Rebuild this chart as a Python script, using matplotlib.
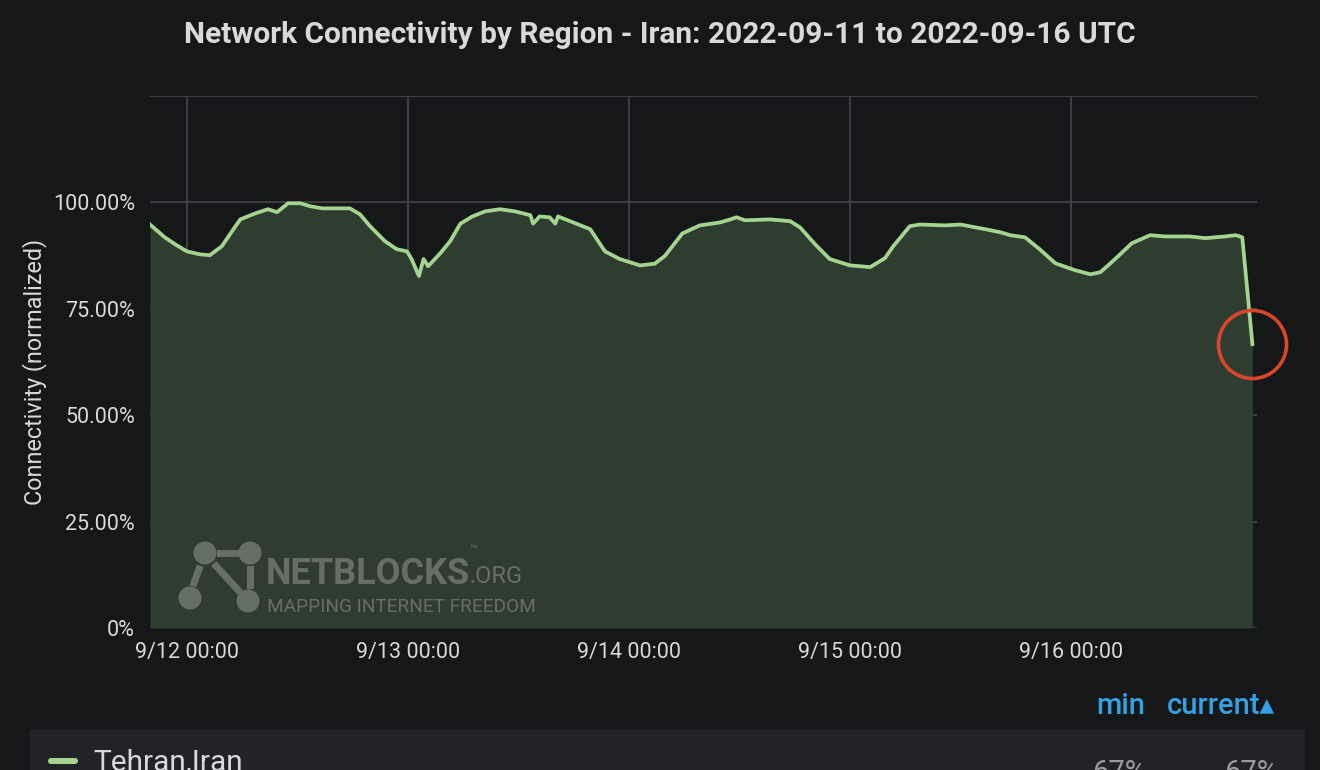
import pandas as pd
import matplotlib.pyplot as plt
from matplotlib.patches import Circle, Rectangle, FancyBboxPatch

# dados (horas desde 9/12 00:00 UTC, conectividade %)
horas = [-4.0, -2.4, -1.3, 0.0, 1.4, 2.5, 3.8, 4.9, 5.8, 7.4, 8.8, 9.8, 11.0, 12.3,
         13.4, 14.7, 17.7, 18.8, 19.9, 21.5, 22.8, 23.9, 24.4, 25.2, 25.7, 26.2,
         27.5, 28.6, 29.7, 31.0, 32.4, 34.0, 35.6, 37.3, 37.6, 38.3, 39.4, 40.0,
         40.3, 41.6, 43.8, 45.4, 47.0, 49.2, 50.8, 51.9, 53.8, 55.7, 57.9, 59.0,
         59.7, 60.6, 63.3, 65.5, 66.6, 68.2, 69.8, 72.0, 74.2, 75.8, 76.7, 78.5,
         79.6, 82.3, 84.0, 86.7, 88.3, 89.4, 91.0, 92.6, 94.3, 96.4, 98.1, 99.2,
         100.8, 102.6, 104.6, 106.2, 108.9, 110.6, 112.7, 113.9, 114.6, 115.7]
conectividade = [94.8, 91.8, 90.2, 88.5, 87.8, 87.6, 89.7, 93.2, 96.0, 97.4, 98.4,
                 97.7, 99.8, 99.8, 99.1, 98.6, 98.6, 97.2, 94.4, 90.9, 89.0, 88.5,
                 86.7, 82.7, 86.7, 85.0, 88.0, 90.9, 95.0, 96.7, 97.9, 98.4, 97.9,
                 97.0, 95.0, 96.7, 96.5, 95.0, 96.7, 95.6, 93.7, 88.5, 86.7, 85.2,
                 85.6, 87.4, 92.7, 94.6, 95.3, 96.0, 96.5, 95.8, 96.0, 95.6, 94.1,
                 90.2, 86.7, 85.2, 84.8, 86.9, 89.7, 94.4, 94.8, 94.6, 94.8, 93.7,
                 93.0, 92.3, 91.8, 89.0, 85.7, 84.1, 83.1, 83.6, 86.7, 90.4, 92.3,
                 92.0, 92.0, 91.6, 92.0, 92.3, 91.8, 66.7]
dias = ['2022-09-12', '2022-09-13', '2022-09-14', '2022-09-15', '2022-09-16']
rotulos_x = ['9/12 00:00', '9/13 00:00', '9/14 00:00', '9/15 00:00', '9/16 00:00']
ticks_y = [0, 25, 50, 75, 100, 125]
rotulos_y = ['0%', '25.00%', '50.00%', '75.00%', '100.00%', '']

base = pd.Timestamp('2022-09-12 00:00')
df = pd.DataFrame({'tempo': base + pd.to_timedelta(horas, unit='h'),
                   'valor': conectividade})

fundo = '#161719'
texto = '#d8d9da'
grade = '#45464a'
verde = '#a3d58f'

plt.rcParams['font.family'] = ['Roboto', 'DejaVu Sans']

fig = plt.figure(figsize=(13.2, 7.7), dpi=100, facecolor=fundo)
ax = fig.add_axes([150 / 1320, 1 - 628 / 770, 1107 / 1320, 532 / 770])
ax.set_facecolor(fundo)

ax.fill_between(df['tempo'], df['valor'], 0, color='#2f3d30', lw=0, zorder=2)
ax.plot(df['tempo'], df['valor'], color=verde, lw=2.7, zorder=3,
        solid_joinstyle='round')
# marcacao do ultimo ponto
ax.plot(df['tempo'].iloc[-1], df['valor'].iloc[-1], 'o', ms=49, mfc='none',
        mec='#d9462c', mew=2.6, zorder=4, clip_on=False)

ax.set_xlim(base - pd.Timedelta(hours=4), base + pd.Timedelta(hours=116.2))
ax.set_ylim(0, 125)
ax.set_xticks(pd.to_datetime(dias))
ax.set_xticklabels(rotulos_x)
ax.set_yticks(ticks_y)
ax.set_yticklabels(rotulos_y)
ax.tick_params(colors=texto, labelsize=15.5, length=0, pad=10)
ax.tick_params(axis='y', pad=11)
ax.grid(True, color=grade, lw=1.2, zorder=1)
for s in ax.spines.values():
    s.set_visible(False)
ax.set_ylabel('Connectivity (normalized)', color=texto, fontsize=16.8)
ax.yaxis.set_label_coords(-0.093, 0.481)

fig.text(0.5, 1 - 35 / 770, 'Network Connectivity by Region - Iran: 2022-09-11 to 2022-09-16 UTC',
         color=texto, fontsize=21.5, fontweight='bold', ha='center', va='center')

# camada de decoracao em pixels
ov = fig.add_axes([0, 0, 1, 1], zorder=5)
ov.set_xlim(0, 1320)
ov.set_ylim(770, 0)
ov.axis('off')

cinza = '#707a6c'
for cx, cy in [(205, 553), (250, 553), (190, 598), (248, 601)]:
    ov.add_patch(Circle((cx, cy), 11.5, color=cinza, alpha=0.85, lw=0))
ov.plot([220, 235], [553, 553], color=cinza, lw=5, alpha=0.85)
ov.plot([250, 250], [569, 585], color=cinza, lw=5, alpha=0.85)
ov.plot([199, 194], [569, 583], color=cinza, lw=5, alpha=0.85)
ov.plot([216, 238], [566, 590], color=cinza, lw=5, alpha=0.85)
ov.text(266, 584, 'NETBLOCKS', fontweight='bold', fontsize=26, color=cinza,
        alpha=0.85, va='baseline')
ov.text(469, 583, '.ORG', fontsize=17, color=cinza, alpha=0.85, va='baseline')
ov.text(469, 554, '\u2122', fontsize=9, color=cinza, alpha=0.85, va='baseline')
ov.text(267, 612, 'MAPPING INTERNET FREEDOM', fontsize=13.7, color=cinza,
        alpha=0.85, va='baseline')

# legenda inferior
azul = '#33a2e5'
ov.text(1096, 706, 'min', color=azul, fontsize=21, fontweight='medium', va='center')
ov.text(1167, 706, 'current\u25b4', color=azul, fontsize=21, fontweight='medium', va='center')
ov.add_patch(Rectangle((30, 730), 1275, 50, color='#222326', lw=0))
ov.add_patch(FancyBboxPatch((48, 758), 30, 6, boxstyle='round,pad=0,rounding_size=3',
                            color=verde, lw=0))
ov.text(93, 771, 'Tehran,Iran', color=texto, fontsize=21.5, va='baseline')
ov.text(1146, 781, '67%', color='#9a9b9d', fontsize=21, ha='right', va='baseline')
ov.text(1278, 781, '67%', color='#9a9b9d', fontsize=21, ha='right', va='baseline')

fig.savefig('out.png', dpi=100, facecolor=fundo)
